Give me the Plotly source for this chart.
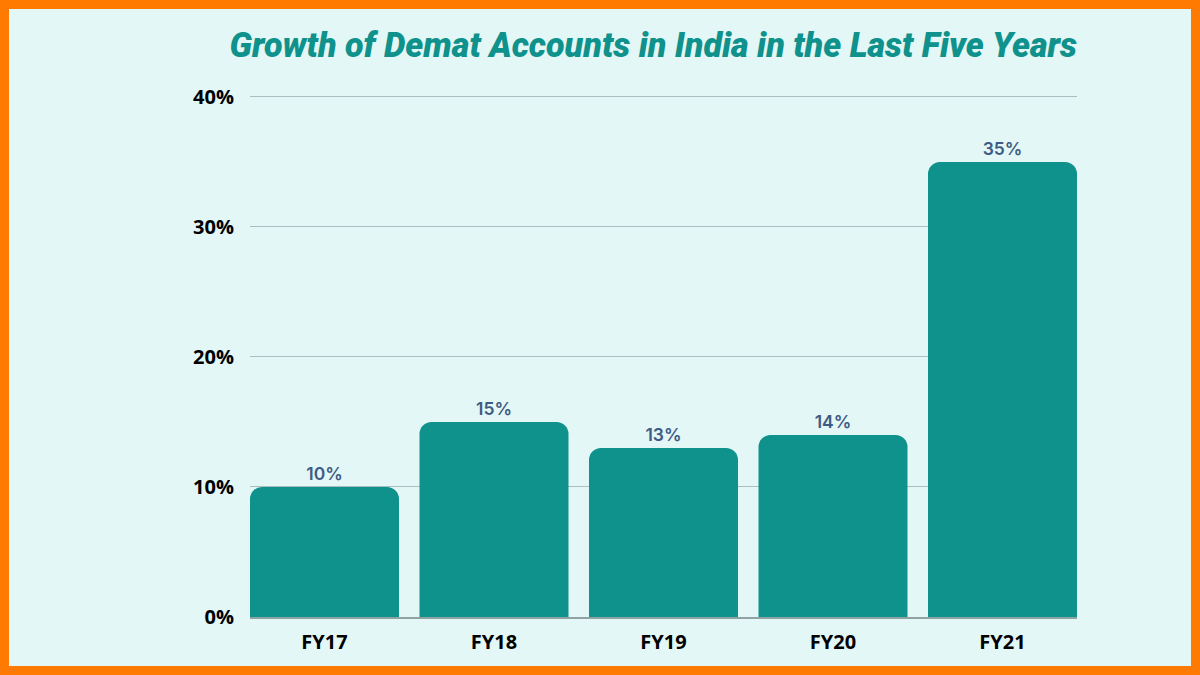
"""
Growth of demat accounts in India, FY17 to FY21
"""

import plotly.graph_objects as go

years = ['FY17', 'FY18', 'FY19', 'FY20', 'FY21']
growth = [10, 15, 13, 14, 35]
growth_labels = ['10%', '15%', '13%', '14%', '35%']
y_ticks = [0, 10, 20, 30, 40]
y_tick_labels = ['0%', '10%', '20%', '30%', '40%']

TEAL = '#0f918c'
BG = '#e2f7f6'
ORANGE = '#ff7a00'

W, H = 1200, 675
L, R, T, B = 250, 123, 95, 58
pw, ph = W - L - R, H - T - B

fig = go.Figure()
fig.add_trace(go.Bar(
    x=years, y=growth, marker=dict(color=TEAL, cornerradius=12, line_width=0),
    text=growth_labels, textposition='outside', cliponaxis=False,
    textfont=dict(family='Inter', size=17.5, color='#3f5b85', weight=600),
))

# light panel over the orange page colour leaves the frame
fig.add_shape(type='rect', xref='paper', yref='paper', layer='below', line_width=0, fillcolor=BG,
              x0=(9 - L) / pw, x1=(W - 9 - L) / pw, y0=(B - 9) / -ph, y1=(H - 9 - B) / ph)

fig.update_layout(
    width=W, height=H, margin=dict(l=L, r=R, t=T, b=B, pad=0, autoexpand=False),
    paper_bgcolor=ORANGE, plot_bgcolor='rgba(0,0,0,0)', showlegend=False, bargap=0.121,
    title=dict(text='Growth of Demat Accounts in India in the Last Five Years',
               x=1077 / W, xanchor='right', y=1 - 45 / H, yanchor='middle',
               font=dict(family='Roboto', size=34.1, color=TEAL, weight=900, style='italic')),
)
fig.update_xaxes(range=[-0.4395, 4.4395], showgrid=False, showline=True, linecolor='#8fa3a3', linewidth=2,
                 ticks='', ticklabelstandoff=6, zeroline=False,
                 tickfont=dict(family='Open Sans', size=20, color='#000000', weight=700))
# top of range a little over 40 so the 40% gridline is not clipped away
fig.update_yaxes(range=[0, 40.15], tickvals=y_ticks, ticktext=y_tick_labels, showgrid=True,
                 gridcolor='#a9bfbf', gridwidth=1, zeroline=False, ticks='', ticklabelstandoff=15,
                 tickfont=dict(family='Open Sans', size=20, color='#000000', weight=700))

fig.write_html('out.html', config=dict(displayModeBar=False), post_script="document.body.style.margin='0';")
